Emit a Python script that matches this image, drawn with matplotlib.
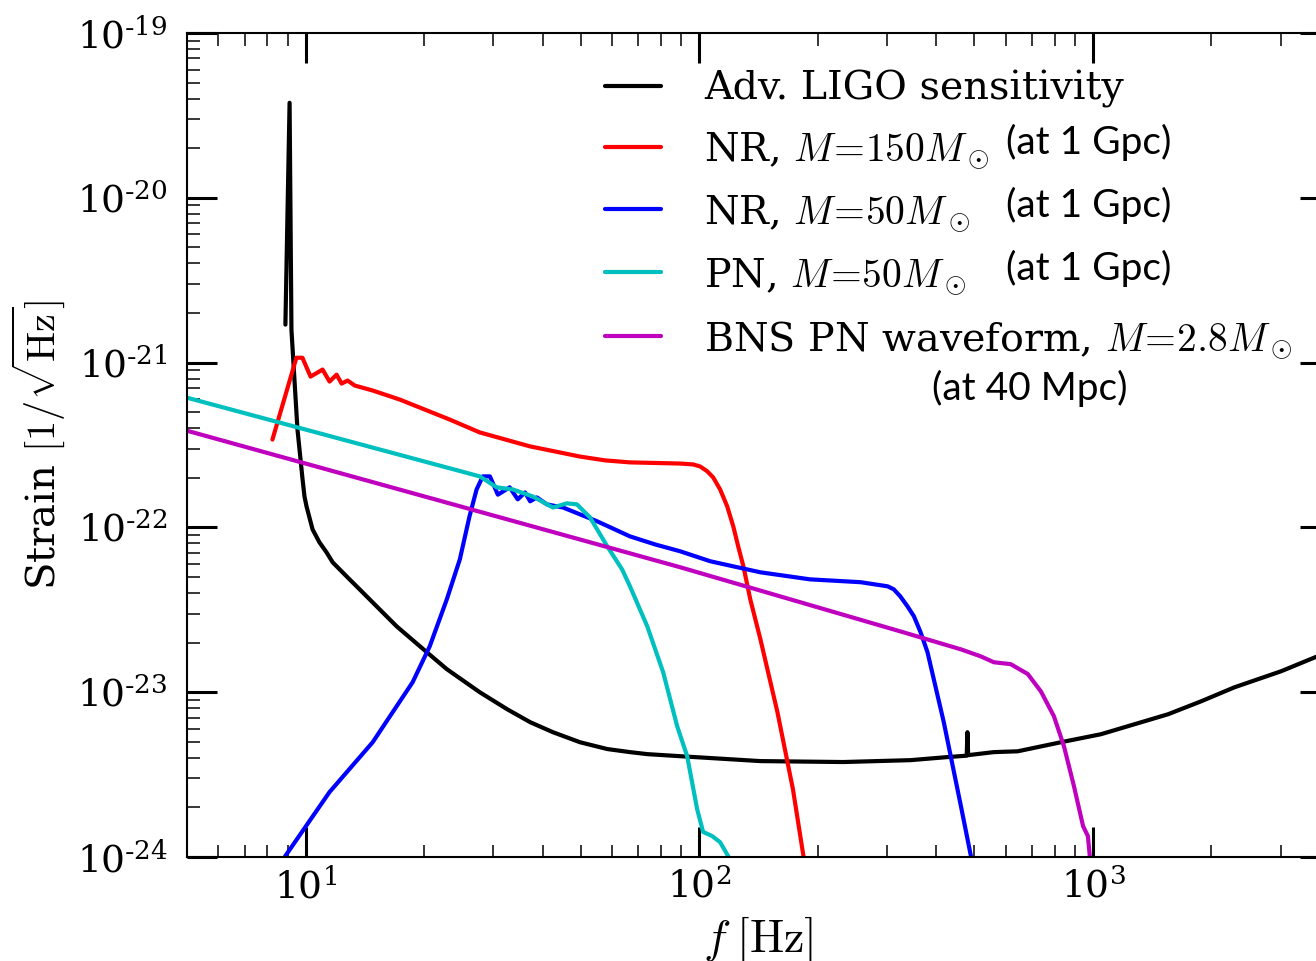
import numpy as np
import matplotlib
matplotlib.use("Agg")
import matplotlib.pyplot as plt
from matplotlib.ticker import FuncFormatter, LogLocator

plt.rcParams['font.family'] = 'DejaVu Serif'
plt.rcParams['mathtext.fontset'] = 'cm'

#___Adv. LIGO sensitivity curve___#
f_ligo = [8.89, 9.11, 9.21, 9.54, 9.83, 9.94, 10.06, 10.42, 10.85, 11.31, 11.72, 12.72, 13.96, 15.43,
          17.04, 20.32, 22.85, 27.7, 32.5, 37.2, 42.5, 49.8, 58.4, 66.7, 73.8, 89.5, 142.9, 232, 344,
          427, 478, 480, 482, 560, 644, 829, 1048, 1552, 1884, 2286, 3006, 3715, 4000]
h_ligo = [1.70e-21, 3.77e-20, 1.58e-21, 3.93e-22, 1.95e-22, 1.54e-22, 1.34e-22, 9.73e-23, 8.11e-23,
          7.05e-23, 6.14e-23, 5.04e-23, 4.04e-23, 3.18e-23, 2.51e-23, 1.75e-23, 1.38e-23, 1.0e-23,
          7.89e-24, 6.58e-24, 5.72e-24, 4.97e-24, 4.52e-24, 4.33e-24, 4.21e-24, 4.09e-24, 3.82e-24,
          3.77e-24, 3.87e-24, 4.04e-24, 4.12e-24, 5.72e-24, 4.15e-24, 4.33e-24, 4.38e-24, 4.97e-24,
          5.56e-24, 7.35e-24, 8.81e-24, 1.07e-23, 1.34e-23, 1.65e-23, 1.77e-23]

#___NR waveform, M = 150 Msun___#
f_nr150 = [8.24, 9.48, 9.82, 10.30, 11.05, 11.51, 11.99, 12.35, 12.79, 13.33, 14.81, 17.34, 23.2, 27.7,
           37.2, 43.0, 49.8, 57.7, 66.7, 89.5, 96.6, 100.6, 104.8, 108.5, 113.0, 117.8, 122.1, 125.6,
           129.5, 134.8, 143, 158, 173, 184, 191]
h_nr150 = [3.41e-22, 1.07e-21, 1.07e-21, 8.22e-22, 9.07e-22, 7.67e-22, 8.45e-22, 7.46e-22, 7.78e-22,
           7.26e-22, 6.77e-22, 5.97e-22, 4.52e-22, 3.77e-22, 3.10e-22, 2.89e-22, 2.69e-22, 2.55e-22,
           2.48e-22, 2.44e-22, 2.41e-22, 2.34e-22, 2.19e-22, 2.01e-22, 1.70e-22, 1.34e-22, 1.01e-22,
           7.67e-23, 5.80e-23, 3.66e-23, 2.10e-23, 7.57e-24, 2.58e-24, 1.01e-24, 6.5e-25]

#___NR waveform, M = 50 Msun___#
f_nr50 = [8.59, 8.95, 11.51, 14.81, 18.71, 20.68, 22.85, 24.66, 26.1, 27.2, 28.2, 29.4, 30.8, 33.0, 34.6,
          36.1, 37.2, 38.7, 41.0, 45.1, 55.0, 66.7, 77.3, 89.5, 106.7, 143, 191, 257, 301, 312, 324,
          338, 351, 365, 380, 418, 462, 490, 504]
h_nr50 = [8.95e-25, 1.04e-24, 2.48e-24, 4.97e-24, 1.15e-23, 1.90e-23, 3.66e-23, 6.40e-23, 1.17e-22,
          1.70e-22, 2.04e-22, 2.04e-22, 1.58e-22, 1.75e-22, 1.48e-22, 1.63e-22, 1.44e-22, 1.52e-22,
          1.38e-22, 1.32e-22, 1.09e-22, 8.82e-23, 7.88e-23, 7.16e-23, 6.23e-23, 5.34e-23, 4.84e-23,
          4.65e-23, 4.39e-23, 4.21e-23, 3.82e-23, 3.32e-23, 2.89e-23, 2.31e-23, 1.75e-23, 6.58e-24,
          2.04e-24, 1.01e-24, 6.9e-25]

#___PN waveform, M = 50 Msun___#
f_pn50 = [4.98, 27.7, 30.6, 33.6, 37.8, 42.5, 46.1, 48.9, 52.8, 58.4, 63.7, 66.7, 73.8, 81.0, 87.9,
          93.2, 98.8, 102.3, 107.9, 113, 118.5, 121.3]
h_pn50 = [6.14e-22, 2.04e-22, 1.75e-22, 1.70e-22, 1.54e-22, 1.32e-22, 1.40e-22, 1.38e-22, 1.15e-22,
          7.67e-23, 5.56e-23, 4.39e-23, 2.51e-23, 1.32e-23, 6.22e-24, 4.09e-24, 1.95e-24, 1.42e-24,
          1.34e-24, 1.23e-24, 1.01e-24, 8.5e-25]

#___BNS PN waveform, M = 2.8 Msun___#
f_bns = [4.98, 89.5, 324, 462, 519, 560, 618, 683, 738, 796, 844, 895, 944, 971, 982, 988]
h_bns = [3.87e-22, 5.73e-23, 2.34e-23, 1.82e-23, 1.65e-23, 1.52e-23, 1.48e-23, 1.29e-23, 1.01e-23,
         7.15e-24, 4.71e-24, 2.69e-24, 1.54e-24, 1.34e-24, 1.01e-24, 8.5e-25]

labels = ["Adv. LIGO sensitivity",
          r"NR, $M\!=\!150M_\odot$",
          r"NR, $M\!=\!50M_\odot$",
          r"PN, $M\!=\!50M_\odot$",
          r"BNS PN waveform, $M\!=\!2.8M_\odot$"]
notes = ["(at 1 Gpc)", "(at 1 Gpc)", "(at 1 Gpc)"]
bns_note = "(at 40 Mpc)"

#___build the plot___#
fig = plt.figure(figsize=(13.16, 9.61), dpi=100)
ax = fig.add_axes([0.1421, 0.1082, 0.8685, 0.8575])

lw = 3
style = dict(lw=lw, solid_joinstyle="round", solid_capstyle="round")
ax.plot(f_ligo, h_ligo, color="k", label=labels[0], **style)
ax.plot(f_nr150, h_nr150, color="#ff0000", label=labels[1], **style)
ax.plot(f_nr50, h_nr50, color="#0000ff", label=labels[2], **style)
ax.plot(f_pn50, h_pn50, color="#00bfbf", label=labels[3], **style)
ax.plot(f_bns, h_bns, color="#bf00bf", label=labels[4], **style)

ax.set_xscale("log")
ax.set_yscale("log")
ax.set_xlim(5, 4000)
ax.set_ylim(1e-24, 1e-19)

#___ticks and formating___#
def exp_fmt(v, pos):
    e = int(round(np.log10(v)))
    if e < 0:
        return r"$\mathdefault{10^{\text{-}%d}}$" % (-e)
    return r"$\mathdefault{10^{%d}}$" % e

ax.xaxis.set_major_formatter(FuncFormatter(exp_fmt))
ax.yaxis.set_major_formatter(FuncFormatter(exp_fmt))
ax.yaxis.set_major_locator(LogLocator(base=10, numticks=10))
ax.tick_params(which="major", direction="in", length=21.5, width=2.2, top=True, right=True,
               labelsize=27)
ax.tick_params(which="minor", direction="in", length=9, width=1.1, top=True, right=True)
ax.tick_params(axis="y", which="major", pad=14)
ax.tick_params(axis="x", which="major", pad=8)
for s in ax.spines.values():
    s.set_linewidth(1.5)

ax.set_xlabel(r"$f\;[\mathrm{Hz}]$", fontsize=33, labelpad=6)
ax.set_ylabel(r"Strain $[1/\sqrt{\mathrm{Hz}}]$", fontsize=29, labelpad=7)

leg = ax.legend(loc="upper left", bbox_to_anchor=(0.3345, 0.998), frameon=False, fontsize=28.5,
                handlelength=1.42, handletextpad=1.08, labelspacing=0.56)

for i, t in enumerate(notes):
    ax.text(0.717, 0.867 - i * 0.0765, t, transform=ax.transAxes, fontsize=28, family="Lato",
            ha="left", va="center")
ax.text(0.652, 0.569, bns_note, transform=ax.transAxes, fontsize=28, family="Lato",
        ha="left", va="center")

fig.savefig("out.png", dpi=100)
